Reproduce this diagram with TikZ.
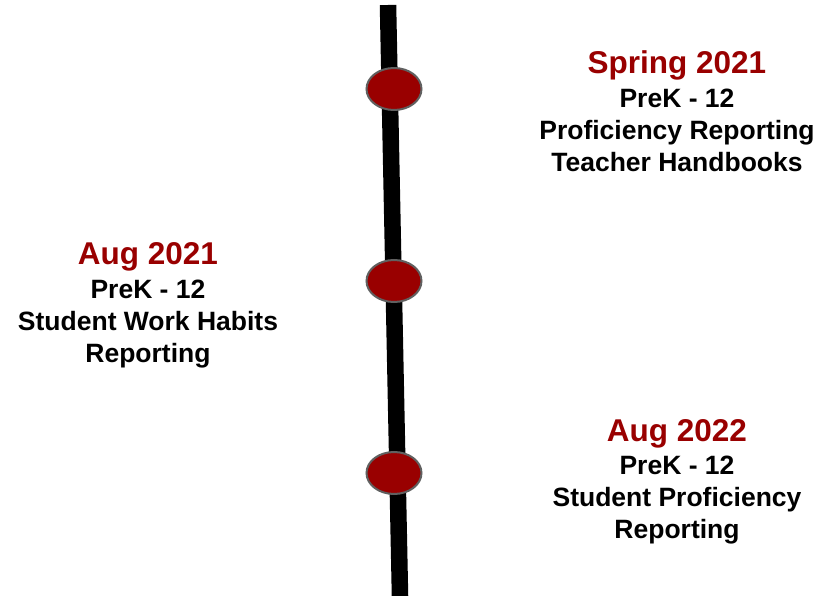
\documentclass[tikz,border=0pt]{standalone}
\usepackage{fontspec}
\setmainfont{Liberation Sans}
\usepackage{xcolor}
\usepackage{tikz}
\usetikzlibrary{positioning, shapes.geometric}
\definecolor{darkred}{HTML}{990000}
\definecolor{rimgray}{HTML}{606060}

\begin{document}
\begin{tikzpicture}[x=1pt, y=-1pt,
    milestone/.style={ellipse, draw=rimgray, line width=2pt, fill=darkred,
        minimum width=55pt, minimum height=42pt, inner sep=0pt},
    datetitle/.style={anchor=base, inner sep=0pt, text=darkred,
        font=\fontsize{31.5}{36}\selectfont\bfseries},
    datebody/.style={anchor=north, inner sep=0pt, align=center,
        font=\fontsize{26.5}{32}\selectfont\bfseries}]
\useasboundingbox (0,0) rectangle (833,596);
% timeline
\coordinate (top) at (388,5);
\coordinate (bottom) at (400,596);
\draw[line width=16.5pt] (top) -- (bottom);
\node[milestone] (m1) at (394,89) {};
\node[milestone] (m2) at (394,281) {};
\node[milestone] (m3) at (394,473) {};
% labels
\node[datetitle] (t1) at (677,74) {Spring 2021};
\node[datebody, below=7.5pt of t1] (b1) {PreK - 12\\ Proficiency Reporting\\ Teacher Handbooks};
\node[datetitle] (t2) at (148,265) {Aug 2021};
\node[datebody, below=7.5pt of t2] (b2) {PreK - 12\\ Student Work Habits\\ Reporting};
\node[datetitle] (t3) at (677,441) {Aug 2022};
\node[datebody, below=7.5pt of t3] (b3) {PreK - 12\\ Student Proficiency\\ Reporting};
\end{tikzpicture}
\end{document}
